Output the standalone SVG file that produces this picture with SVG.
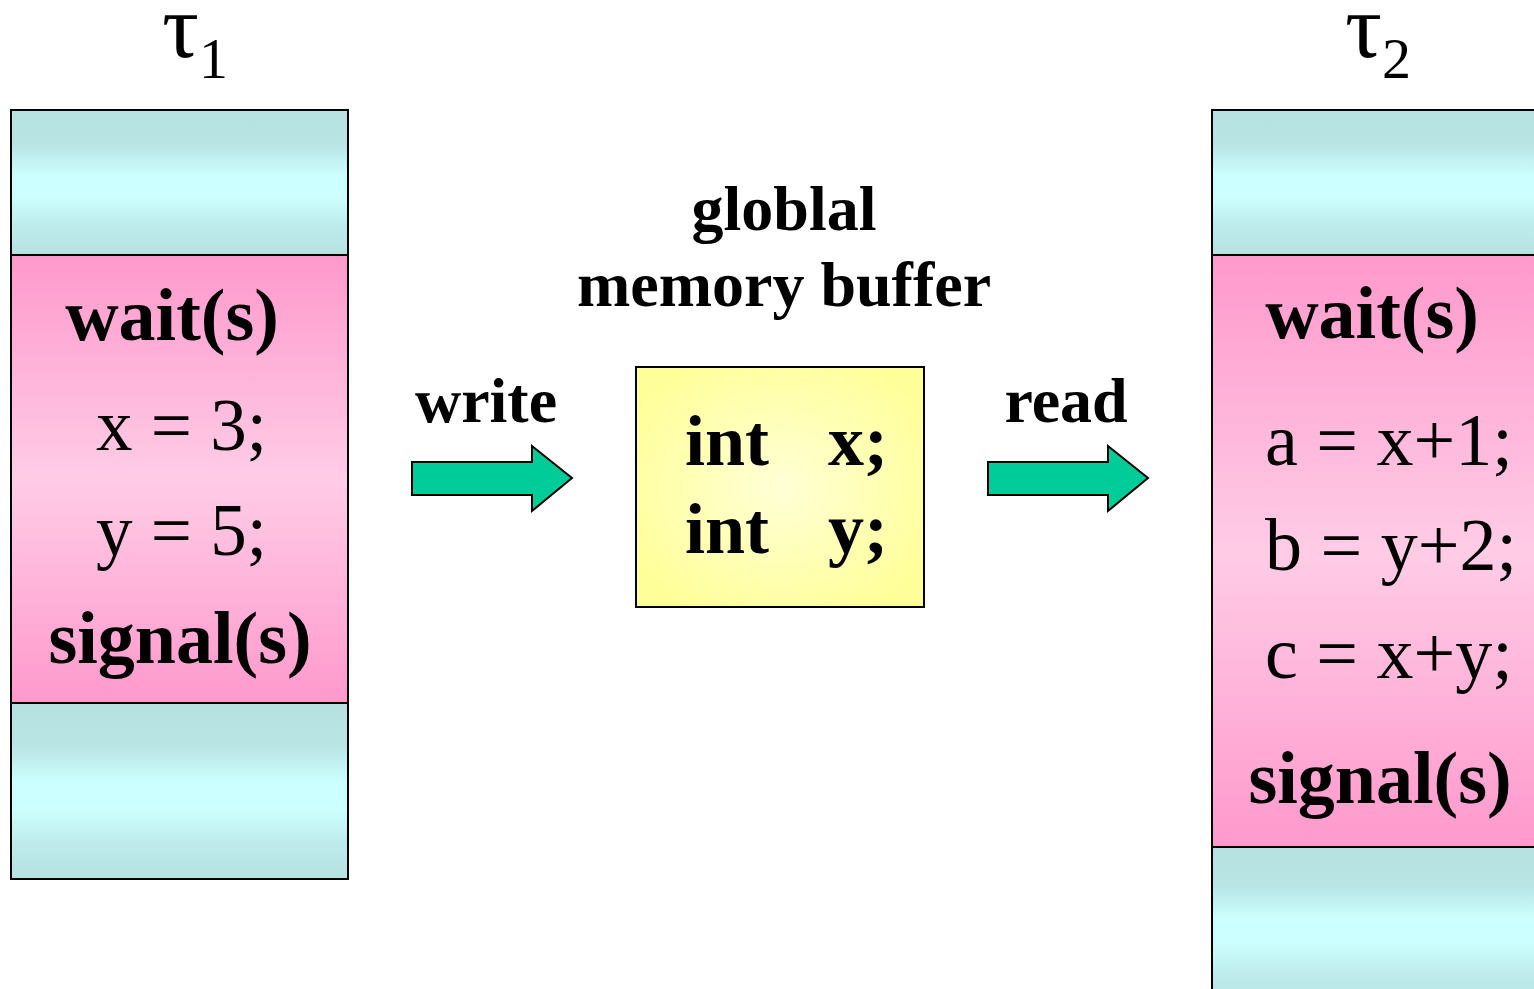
<svg xmlns="http://www.w3.org/2000/svg" width="1534" height="989" viewBox="0 0 1534 989">
<defs>
<linearGradient id="cyan" x1="0" y1="0" x2="0" y2="1">
<stop offset="0" stop-color="#B6E1E1"/><stop offset="0.25" stop-color="#B9E5E5"/><stop offset="0.45" stop-color="#CCFFFF"/><stop offset="0.6" stop-color="#CCFFFF"/><stop offset="0.8" stop-color="#BDEBEB"/><stop offset="1" stop-color="#B6E1E1"/>
</linearGradient>
<linearGradient id="pink" x1="0" y1="0" x2="0" y2="1">
<stop offset="0" stop-color="#FF99CC"/><stop offset="0.5" stop-color="#FFCCE6"/><stop offset="1" stop-color="#FF99CC"/>
</linearGradient>
<radialGradient id="yel" cx="0.5" cy="0.5" r="0.6">
<stop offset="0" stop-color="#FFFFD6"/><stop offset="1" stop-color="#FFFF99"/>
</radialGradient>
<style>
.b{stroke:#000;stroke-width:2}
.t{font-family:"Liberation Serif","Times New Roman",serif;fill:#000}
.bold{font-weight:bold}
.arr{fill:#00CC99;stroke:#000;stroke-width:2}
</style>
</defs>
<g id="tau1">
<text class="t" x="162" y="57" font-size="92">τ<tspan font-size="58" dy="21">1</tspan></text>
</g>
<g id="tau2">
<text class="t" x="1345" y="57" font-size="92">τ<tspan font-size="58" dy="21">2</tspan></text>
</g>
<g id="task1">
<rect class="b" x="11" y="110" width="337" height="145" fill="url(#cyan)"/>
<rect class="b" x="11" y="255" width="337" height="448" fill="url(#pink)"/>
<rect class="b" x="11" y="703" width="337" height="176" fill="url(#cyan)"/>
<text class="t bold" x="172" y="340" font-size="74" text-anchor="middle">wait(s)</text>
<text class="t" x="96" y="450" font-size="73">x = 3;</text>
<text class="t" x="96" y="555" font-size="73">y = 5;</text>
<text class="t bold" x="180" y="663" font-size="74" text-anchor="middle">signal(s)</text>
</g>
<g id="task2">
<rect class="b" x="1212" y="110" width="340" height="145" fill="url(#cyan)"/>
<rect class="b" x="1212" y="255" width="340" height="592" fill="url(#pink)"/>
<rect class="b" x="1212" y="847" width="340" height="160" fill="url(#cyan)"/>
<text class="t bold" x="1372" y="338" font-size="74" text-anchor="middle">wait(s)</text>
<text class="t" x="1265" y="465" font-size="74">a = x+1;</text>
<text class="t" x="1265" y="570" font-size="74">b = y+2;</text>
<text class="t" x="1265" y="678" font-size="74">c = x+y;</text>
<text class="t bold" x="1380" y="803" font-size="74" text-anchor="middle">signal(s)</text>
</g>
<g id="buffer">
<text class="t bold" x="784" y="230" font-size="64" text-anchor="middle">globlal</text>
<text class="t bold" x="784" y="306" font-size="64" text-anchor="middle">memory buffer</text>
<rect x="636" y="367" width="288" height="240" fill="url(#yel)" stroke="#000" stroke-width="2"/>
<text class="t bold" x="685" y="465" font-size="72">int</text>
<text class="t bold" x="828" y="465" font-size="72">x;</text>
<text class="t bold" x="685" y="553" font-size="72">int</text>
<text class="t bold" x="828" y="553" font-size="72">y;</text>
</g>
<g id="connectors">
<text class="t bold" x="486" y="422" font-size="64" text-anchor="middle">write</text>
<polygon class="arr" points="412,462 532,462 532,446 572,478 532,511 532,495 412,495"/>
<text class="t bold" x="1066" y="422" font-size="64" text-anchor="middle">read</text>
<polygon class="arr" points="988,462 1108,462 1108,446 1148,478 1108,511 1108,495 988,495"/>
</g>
</svg>
